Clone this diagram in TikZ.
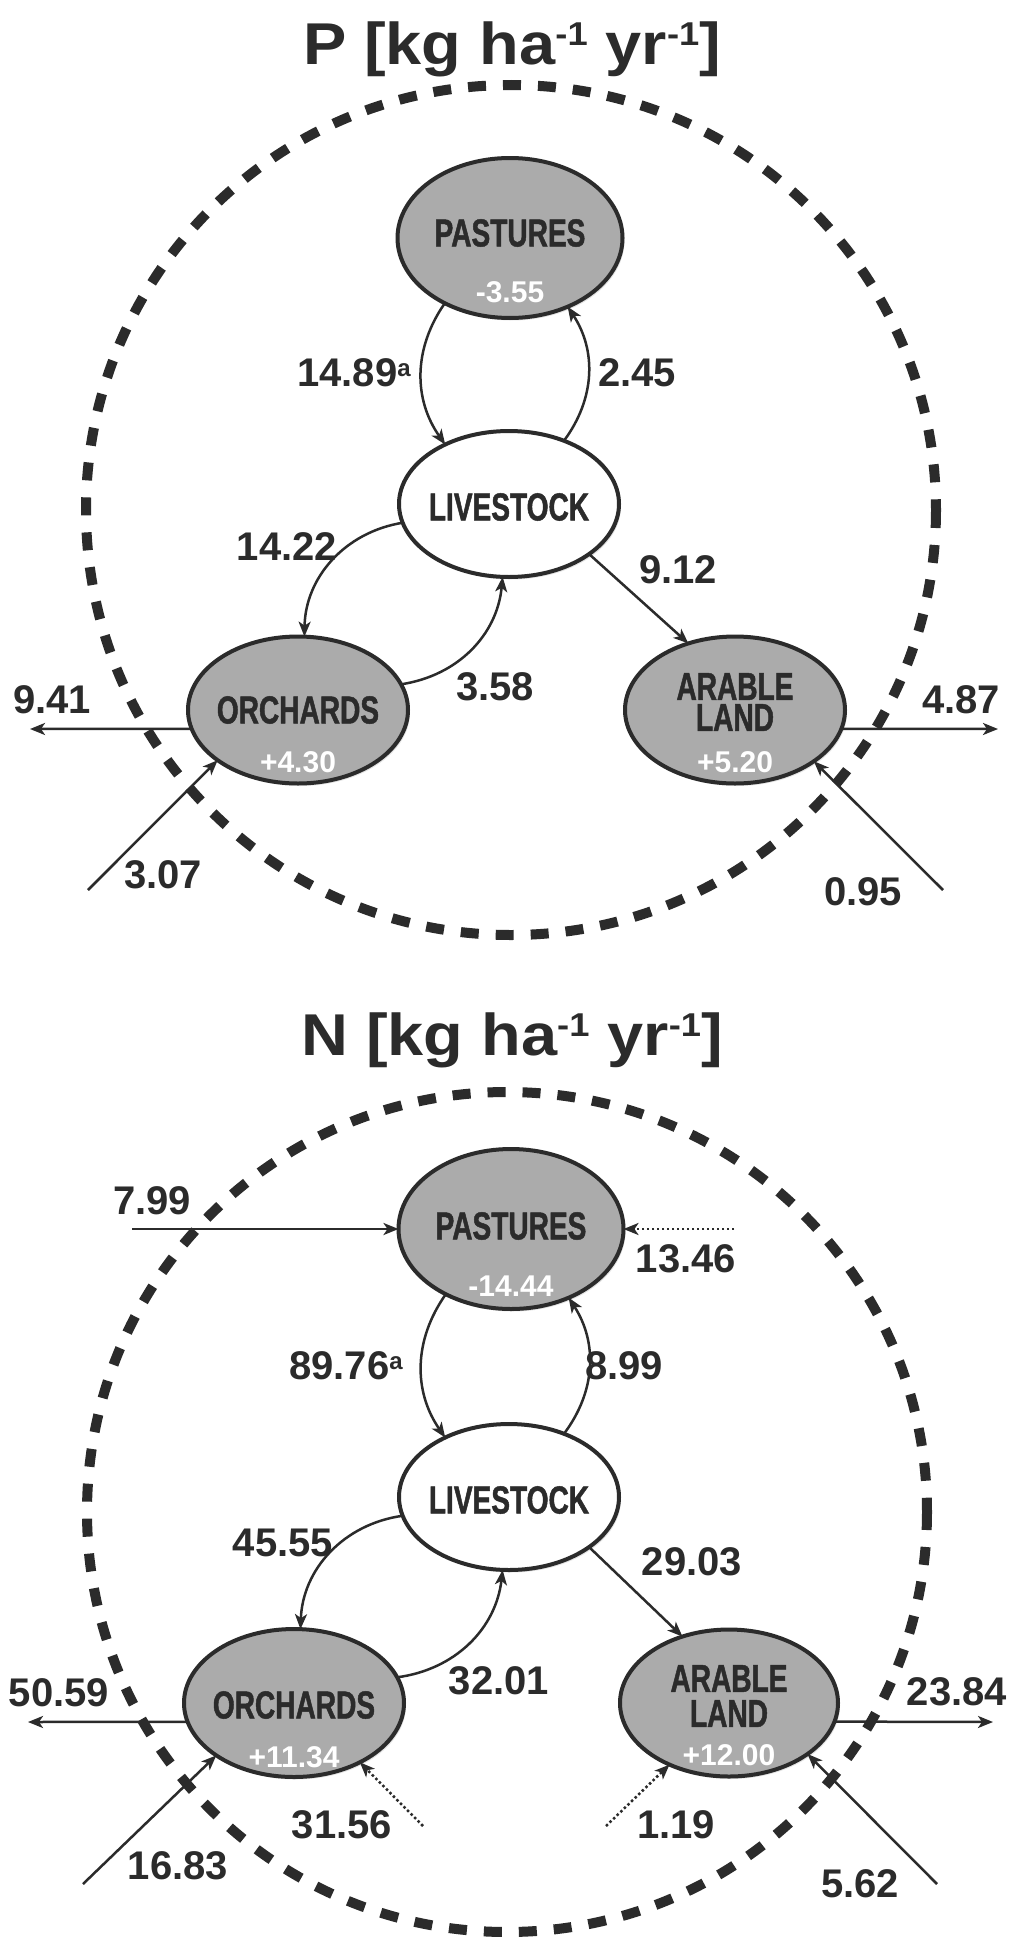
\documentclass[tikz,border=0pt]{standalone}
\usepackage{fontspec}
\setmainfont{Liberation Sans}
\newfontfamily\condfont[FakeStretch=0.72,FakeBold=1.2]{Liberation Sans}
\usetikzlibrary{shapes.geometric,arrows.meta,calc,shadows}
\definecolor{ink}{HTML}{2B2B2B}
\definecolor{nodegray}{HTML}{ABABAB}
\newcommand\upx[1]{\raisebox{19pt}{\fontsize{33}{33}\selectfont #1}}
\newcommand\upa[1]{\raisebox{10pt}{\fontsize{24}{24}\selectfont #1}}
\begin{document}
\begin{tikzpicture}[x=1pt,y=-1pt,
  every node/.style={inner sep=0pt, outer sep=0pt},
  land/.style={ellipse, draw=ink, line width=4pt, fill=nodegray, minimum width=220pt, minimum height=147pt,
    drop shadow={shadow xshift=2pt,shadow yshift=-2.5pt,opacity=0.22}},
  herd/.style={land, fill=white, minimum height=146pt},
  nlabel/.style={font=\condfont\bfseries\fontsize{39}{31}\selectfont, text=ink, align=center},
  bal/.style={font=\bfseries\fontsize{30}{30}\selectfont, text=white},
  num/.style={font=\bfseries\fontsize{40}{40}\selectfont, text=ink},
  ttl/.style={font=\bfseries\fontsize{59}{59}\selectfont, text=ink},
  flow/.style={draw=ink, line width=2.5pt, -{Stealth[length=15pt,width=12pt,inset=4pt]}},
  dotflow/.style={flow, dash pattern=on 2.5pt off 2.5pt},
  boundary/.style={draw=ink, line width=10pt, dash pattern=on 18pt off 17pt},
]
\useasboundingbox[fill=white] (0,0) rectangle (1024,1951);

%% ================= P panel =================
\node[ttl, anchor=base] (Ptitle) at (512,64) {\scalebox{1.1}[1]{P [kg ha\upx{-1} yr\upx{-1}]}};
\coordinate (Pc) at (511,510);
\draw[boundary] (Pc) circle[radius=425];

\node[land, minimum width=225pt, minimum height=160pt] (PAS) at (510,238) {};
\node[herd] (LIV) at (509,504) {};
\node[land] (ORC) at (298,710) {};
\node[land] (ARA) at (735,710) {};

\node[nlabel] (PASt) at (510,233) {PASTURES};
\node[bal] (PASv) at (510,292) {-3.55};
\node[nlabel] (LIVt) at (509,507) {LIVESTOCK};
\node[nlabel] (ORCt) at (298,710) {ORCHARDS};
\node[bal] (ORCv) at (298,762) {+4.30};
\node[nlabel] (ARAt) at (735,702) {ARABLE\\LAND};
\node[bal] (ARAv) at (735,762) {+5.20};

\draw[flow] (PAS.225) to[bend right=35] (LIV.137);
\draw[flow] (LIV.49) to[bend right=35] (PAS.310);
\draw[flow] (LIV.190) to[bend right=40] (ORC.85);
\draw[flow] (ORC.14) to[bend right=38] (LIV.265);
\draw[flow] (LIV.328) -- (ARA.125);

\coordinate (o941) at (30,729);
\coordinate (i307) at (88,890);
\coordinate (o487) at (998,729);
\coordinate (i095) at (943,890);
\draw[flow] (ORC.190) -- (o941);
\draw[flow] (i307) -- (ORC.212);
\draw[flow] (ARA.350) -- (o487);
\draw[flow] (i095) -- (ARA.327);

\node[num] (n1489) at (354,373) {14.89\upa{a}};
\node[num] (n245) at (637,373) {2.45};
\node[num] (n1422) at (287,547) {14.22};
\node[num] (n358) at (495,687) {3.58};
\node[num] (n912) at (678,570) {9.12};
\node[num] (n941) at (52,700) {9.41};
\node[num] (n307) at (163,875) {3.07};
\node[num] (n487) at (961,700) {4.87};
\node[num] (n095) at (863,892) {0.95};

%% ================= N panel =================
\node[ttl, anchor=base] (Ntitle) at (512,1055) {\scalebox{1.1}[1]{N [kg ha\upx{-1} yr\upx{-1}]}};
\coordinate (Nc) at (507,1512);
\draw[boundary] (Nc) circle[radius=420];

\node[land, minimum width=225pt, minimum height=160pt] (PAS2) at (511,1229) {};
\node[herd] (LIV2) at (509,1497) {};
\node[land, minimum height=148pt] (ORC2) at (294,1703) {};
\node[land, minimum width=218pt] (ARA2) at (729,1703) {};

\node[nlabel] (PAS2t) at (511,1226) {PASTURES};
\node[bal] (PAS2v) at (511,1286) {-14.44};
\node[nlabel] (LIV2t) at (509,1500) {LIVESTOCK};
\node[nlabel] (ORC2t) at (294,1705) {ORCHARDS};
\node[bal] (ORC2v) at (294,1757) {+11.34};
\node[nlabel, font=\condfont\bfseries\fontsize{39}{35}\selectfont] (ARA2t) at (729,1696) {ARABLE\\LAND};
\node[bal] (ARA2v) at (729,1755) {+12.00};

\draw[flow] (PAS2.225) to[bend right=35] (LIV2.137);
\draw[flow] (LIV2.49) to[bend right=35] (PAS2.310);
\draw[flow] (LIV2.190) to[bend right=40] (ORC2.85);
\draw[flow] (ORC2.14) to[bend right=38] (LIV2.265);
\draw[flow] (LIV2.328) -- (ARA2.125);

\coordinate (i799) at (132,1229);
\coordinate (i1346) at (734,1229);
\coordinate (o5059) at (28,1722);
\coordinate (i1683) at (83,1884);
\coordinate (i3156) at (423,1826);
\coordinate (o2384) at (993,1722);
\coordinate (i562) at (937,1884);
\coordinate (i119) at (606,1826);
\draw[flow] (i799) -- (PAS2.west);
\draw[dotflow] (i1346) -- (PAS2.east);
\draw[flow] (ORC2.190) -- (o5059);
\draw[flow] (i1683) -- (ORC2.214);
\draw[dotflow] (i3156) -- (ORC2.318);
\draw[flow] (ARA2.350) -- (o2384);
\draw[flow] (i562) -- (ARA2.327);
\draw[dotflow] (i119) -- (ARA2.226);

\node[num] (n799) at (152,1201) {7.99};
\node[num] (n1346) at (686,1259) {13.46};
\node[num] (n8976) at (346,1366) {89.76\upa{a}};
\node[num] (n899) at (624,1366) {8.99};
\node[num] (n4555) at (283,1543) {45.55};
\node[num] (n3201) at (499,1681) {32.01};
\node[num] (n2903) at (692,1562) {29.03};
\node[num] (n5059) at (59,1693) {50.59};
\node[num] (n2384) at (957,1692) {23.84};
\node[num] (n1683) at (178,1866) {16.83};
\node[num] (n3156) at (342,1825) {31.56};
\node[num] (n119) at (676,1825) {1.19};
\node[num] (n562) at (860,1884) {5.62};
\end{tikzpicture}
\end{document}
